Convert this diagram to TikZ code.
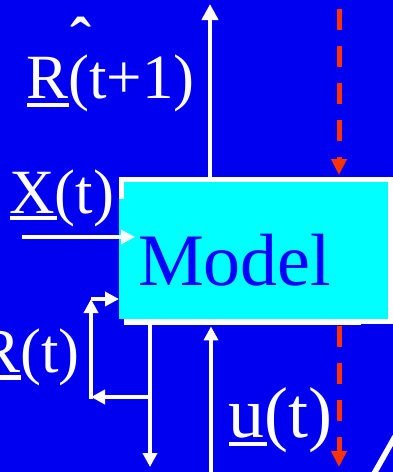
\documentclass[tikz,border=0pt]{standalone}
\usepackage{fontspec}
\setmainfont{Liberation Serif}
\usetikzlibrary{arrows.meta}
\definecolor{bgblue}{RGB}{0,0,240}
\definecolor{txtblue}{RGB}{0,0,255}
\definecolor{boxcyan}{RGB}{0,255,255}
\definecolor{dashred}{RGB}{255,51,0}
\begin{document}
\begin{tikzpicture}[x=1pt,y=-1pt,
  wline/.style={draw=white,line width=4.5pt},
  warrow/.style={wline,-{Triangle[length=14pt,width=14pt]}},
  wbig/.style={wline,-{Triangle[length=16pt,width=16pt]}},
  rarrow/.style={draw=dashred,line width=5pt,dash pattern=on 21pt off 16pt,-{Triangle[length=16pt,width=15pt]}},
  lbl/.style={text=white,inner sep=0pt,font=\fontsize{63}{63}\selectfont},
  uline/.style={fill=white}]
\path[use as bounding box, fill=bgblue] (0,0) rectangle (393,472);
% white frame of the model box
\fill[white] (119,177) rectangle (393,199);
\fill[white] (124,199) rectangle (393,325);
\node[fill=boxcyan, minimum width=269pt, minimum height=137pt, inner sep=0pt, anchor=north west] (model) at (119,182) {};
\fill[white] (119,182) rectangle (124,199);
\fill[bgblue] (361,323.5) rectangle (393,325.5);
\node[anchor=base west, inner sep=0pt, text=txtblue, font=\fontsize{74}{74}\selectfont] (modeltxt) at (138,285) {Model};
% labels
\node[lbl, anchor=base west] (rnext) at (26,98) {R(t+1)};
\fill[uline] (27,103) rectangle (69,107);
\node[lbl, anchor=base, font=\bfseries\fontsize{63}{63}\selectfont] (hat) at (81,61) {\char"02C6};
\node[lbl, anchor=base west] (xlbl) at (9,213) {X(t)};
\fill[uline] (10,216) rectangle (57,220);
\node[lbl, anchor=base east] (rlbl) at (80,372) {R(t)};
\fill[uline] (0,375) rectangle (21,380);
\node[lbl, anchor=base west, font=\fontsize{72}{72}\selectfont] (ulbl) at (228,437) {u(t)};
\fill[uline] (229,442) rectangle (267,446);
% input arrow X
\coordinate (xin) at (22,237);
\draw[warrow] (xin) -- ([xshift=16pt]model.west |- xin);
% output arrow up
\coordinate (rout) at (210,4);
\draw[wbig] (model.north -| rout) -- (rout);
% control input arrow
\coordinate (uin) at (211,473);
\draw[warrow] (uin) -- ([yshift=-7pt]model.south -| uin);
% feedback
\coordinate (fbtop) at (150,324);
\coordinate (fbj) at (150,397);
\coordinate (fbbot) at (150,467);
\coordinate (fbl) at (91,397);
\coordinate (fblb) at (91,399.2);
\coordinate (fbul) at (91,299);
\draw[wline] (fbtop) -- (fbj);
\draw[warrow] (fbj) -- (fbbot);
\draw[warrow] (fbj) -- (fbl);
\draw[warrow] (fblb) -- (fbul);
\draw[warrow] (fbul) -- (model.west |- fbul);
% red dashed arrows
\coordinate (rdtop) at (339,9);
\coordinate (rdbot) at (339,467);
\draw[rarrow] (rdtop) -- ([yshift=7pt]model.north -| rdtop);
\draw[rarrow] ([yshift=-7pt]model.south -| rdtop) -- (rdbot);
% diagonal line at bottom right
\coordinate (d1) at (373,475.5);
\coordinate (d2) at (395,436.5);
\draw[wline, line width=5.5pt] (d1) -- (d2);
\end{tikzpicture}
\end{document}
